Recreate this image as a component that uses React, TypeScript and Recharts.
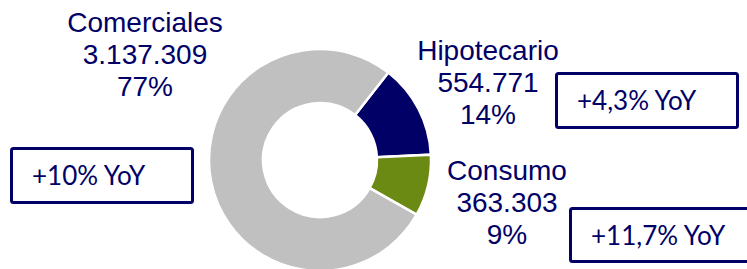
import React from 'react';
import { PieChart, Pie, Cell } from 'recharts';

// datos de la cartera
const segments = ['Hipotecario', 'Consumo', 'Comerciales'];
const amounts = [554771, 363303, 3137309];
const amountLabels = ['554.771', '363.303', '3.137.309'];
const shareLabels = ['14%', '9%', '77%'];
const yoyLabels = ['+4,3% YoY', '+11,7% YoY', '+10% YoY'];
const colors = ['#000066', '#6B8A14', '#C0C0C0'];

const data = segments.map((name, i) => ({ name, value: amounts[i] }));

// posiciones de los textos (colocados a mano como en el original)
const labelPos = [
  { x: 488, y: 60 },
  { x: 507, y: 180 },
  { x: 145, y: 32 },
];
const boxPos = [
  { x: 555, y: 72, w: 184, h: 57 },
  { x: 569, y: 207, w: 184, h: 56 },
  { x: 10, y: 147, w: 184, h: 57 },
];

const NAVY = '#000066';

const renderLabel = (props: any) => {
  const i = props.index;
  const p = labelPos[i];
  const b = boxPos[i];
  return (
    <g key={'lbl-' + i}>
      <text
        x={p.x}
        y={p.y}
        textAnchor="middle"
        fill={NAVY}
        fontFamily="'Liberation Sans', Arial, sans-serif"
        fontSize={28}
      >
        <tspan x={p.x} y={p.y}>{segments[i]}</tspan>
        <tspan x={p.x} y={p.y + 32}>{amountLabels[i]}</tspan>
        <tspan x={p.x} y={p.y + 64}>{shareLabels[i]}</tspan>
      </text>
      <rect
        x={b.x + 1.5}
        y={b.y + 1.5}
        width={b.w - 3}
        height={b.h - 3}
        rx={2}
        fill="#fff"
        stroke={NAVY}
        strokeWidth={3}
      />
      <text
        x={b.x + 22}
        y={b.y + 38}
        fill={NAVY}
        fontFamily="Lato, 'Open Sans', sans-serif"
        fontSize={26}
      >
        {yoyLabels[i]}
      </text>
    </g>
  );
};

const App: React.FC = () => {
  return (
    <div style={{ position: 'absolute', left: 0, top: 0, background: '#fff' }}>
      <PieChart width={747} height={269} margin={{ top: 0, right: 0, bottom: 0, left: 0 }}>
        <Pie
          data={data}
          dataKey="value"
          nameKey="name"
          cx={320}
          cy={160}
          innerRadius={57}
          outerRadius={111}
          startAngle={52}
          endAngle={-308}
          stroke="#fff"
          strokeWidth={2.5}
          label={renderLabel}
          labelLine={false}
          isAnimationActive={false}
        >
          {data.map((d, i) => (
            <Cell key={d.name} fill={colors[i]} />
          ))}
        </Pie>
      </PieChart>
    </div>
  );
};

export default App;
